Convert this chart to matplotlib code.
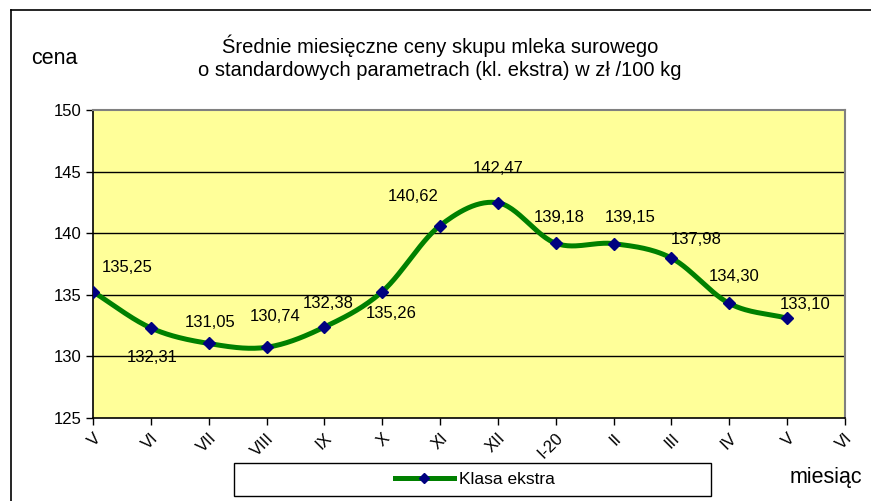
import numpy as np
import matplotlib
matplotlib.use("Agg")
import matplotlib.pyplot as plt
from matplotlib.lines import Line2D
from matplotlib.patches import Rectangle

plt.rcParams['font.family'] = ['Liberation Sans', 'DejaVu Sans']

months = ["V", "VI", "VII", "VIII", "IX", "X", "XI", "XII", "I-20", "II", "III", "IV", "V", "VI"]
values = [135.25, 132.31, 131.05, 130.74, 132.38, 135.26, 140.62, 142.47, 139.18, 139.15, 137.98, 134.30, 133.10]
labels = ["135,25", "132,31", "131,05", "130,74", "132,38", "135,26", "140,62", "142,47",
          "139,18", "139,15", "137,98", "134,30", "133,10"]
label_offsets = [(34, 24), (1, -30), (1, 21), (9, 31), (4, 24), (9, -22), (-27, 29), (0, 34),
                 (3, 26), (17, 26), (25, 19), (5, 27), (18, 14)]

W, H = 871, 501
fig = plt.figure(figsize=(W / 100, H / 100), dpi=100)
fig.patch.set_facecolor('white')

# outer chart border (cut off at right and bottom)
fig.add_artist(Line2D([11 / W, 1.0], [1 - 10 / H, 1 - 10 / H], color='black', lw=1.2, transform=fig.transFigure))
fig.add_artist(Line2D([11 / W, 11 / W], [0, 1 - 10 / H], color='black', lw=1.2, transform=fig.transFigure))

left, right, top, bottom = 93, 845, 110, 418
ax = fig.add_axes([left / W, 1 - bottom / H, (right - left) / W, (bottom - top) / H])
ax.set_facecolor('#FFFF99')

x = np.arange(len(values))
y = np.array(values)

# Catmull-Rom smoothing (like Excel smoothed line)
pts = np.column_stack([x, y]).astype(float)
ext = np.vstack([pts[0] - (pts[1] - pts[0]), pts, pts[-1] + (pts[-1] - pts[-2])])
sx, sy = [], []
for i in range(1, len(ext) - 2):
    p0, p1, p2, p3 = ext[i - 1], ext[i], ext[i + 1], ext[i + 2]
    t = np.linspace(0, 1, 30)[:, None]
    c = 0.5 * ((2 * p1) + (-p0 + p2) * t + (2 * p0 - 5 * p1 + 4 * p2 - p3) * t ** 2
               + (-p0 + 3 * p1 - 3 * p2 + p3) * t ** 3)
    sx.extend(c[:, 0]); sy.extend(c[:, 1])

ax.plot(sx, sy, color='#008000', lw=3.6, solid_capstyle='round', zorder=3)
ax.plot(x, y, linestyle='none', marker='D', markersize=6.5, color='#000080', zorder=4)

for xi, yi, lab, (dx, dy) in zip(x, y, labels, label_offsets):
    ax.annotate(lab, (xi, yi), xytext=(dx * 0.72, dy * 0.72), textcoords='offset points',
                ha='center', va='center', fontsize=12, color='black', zorder=5)

ax.set_xlim(0, len(months) - 1)
ax.set_ylim(125, 150)
ax.set_yticks([125, 130, 135, 140, 145, 150])
ax.set_xticks(np.arange(len(months)))
ax.set_xticklabels(months, rotation=45, ha='right', rotation_mode='anchor', fontsize=12)
ax.tick_params(axis='x', direction='out', length=5, width=1, pad=4)
ax.tick_params(axis='y', direction='out', length=5, width=1, labelsize=12, pad=3)
for yv in [130, 135, 140, 145]:
    ax.axhline(yv, color='black', lw=1, zorder=1)
ax.spines['left'].set_color('black')
ax.spines['bottom'].set_color('black')
ax.spines['left'].set_linewidth(1.2)
ax.spines['bottom'].set_linewidth(1.2)
ax.spines['top'].set_color('#808080')
ax.spines['right'].set_color('#808080')
ax.spines['top'].set_linewidth(1.5)
ax.spines['right'].set_linewidth(1.5)

fig.text(440 / W, 1 - 46 / H, "Średnie miesięczne ceny skupu mleka surowego", ha='center', va='center', fontsize=14.5)
fig.text(440 / W, 1 - 71 / H, "o standardowych parametrach (kl. ekstra) w zł /100 kg", ha='center', va='center', fontsize=14.5)
fig.text(31 / W, 1 - 58 / H, "cena", ha='left', va='center', fontsize=15.5)
fig.text(790 / W, 1 - 478 / H, "miesiąc", ha='left', va='center', fontsize=15.5)

# legend box
fig.add_artist(Rectangle((234 / W, 1 - 496 / H), (711 - 234) / W, (496 - 463) / H, transform=fig.transFigure,
                         facecolor='white', edgecolor='black', lw=1))
handle = Line2D([], [], color='#008000', lw=3.6, marker='D', markersize=5, markerfacecolor='#000080',
                markeredgecolor='#000080')
fig.legend([handle], ["Klasa ekstra"], loc='center', bbox_to_anchor=(475 / W, 1 - 479.5 / H),
           frameon=False, fontsize=12.5, handlelength=3.4, handletextpad=0.3)

fig.savefig("out.png", dpi=100)
